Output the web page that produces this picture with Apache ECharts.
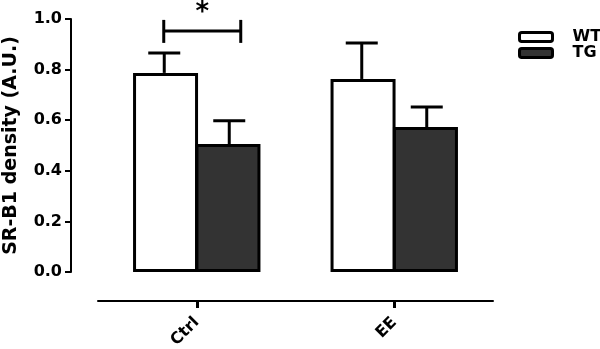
<!DOCTYPE html>
<html><head><meta charset="utf-8">
<script src="https://cdn.jsdelivr.net/npm/echarts@6/dist/echarts.min.js"></script>
<style>html,body{margin:0;padding:0;background:#fff}#c{width:600px;height:349px}</style>
</head><body><div id="c"></div>
<script>
const categories = ['Ctrl', 'EE'];
const seriesNames = ['WT', 'TG'];
const wtMean = [0.787, 0.763];
const wtUpper = [0.866, 0.905];
const tgMean = [0.506, 0.573];
const tgUpper = [0.598, 0.652];
const yTicks = [0.0, 0.2, 0.4, 0.6, 0.8, 1.0];
const sigCategory = 0;
const sigLevel = 0.953;
const sigLabel = '*';

const BAR_W = 65;
const FONT = 'DejaVu Sans';
const chart = echarts.init(document.getElementById('c'));

function errSeries(name, means, uppers, side) {
  return {
    type: 'custom', name: name + ' err', z: 5,
    data: means.map((m, i) => [i, m, uppers[i]]),
    renderItem: function (params, api) {
      const top = api.coord([api.value(0), api.value(1)]);
      const cap = api.coord([api.value(0), api.value(2)]);
      const x = top[0] + side * BAR_W / 2;
      const st = {stroke: '#000', lineWidth: 3};
      return {type: 'group', children: [
        {type: 'line', shape: {x1: x, y1: top[1], x2: x, y2: cap[1]}, style: st},
        {type: 'line', shape: {x1: x - 16, y1: cap[1], x2: x + 16, y2: cap[1]}, style: st}
      ]};
    }
  };
}

chart.setOption({
  animation: false,
  grid: {left: 98, right: 107, top: 19, bottom: 77, outerBoundsMode: 'none', containLabel: false},
  legend: {
    orient: 'vertical', left: 518, top: 29, itemGap: 0, padding: 0,
    itemWidth: 33, itemHeight: 9, icon: 'roundRect',
    data: [
      {name: 'WT', itemStyle: {color: '#fff', borderColor: '#000', borderWidth: 3}},
      {name: 'TG', itemStyle: {color: '#333', borderColor: '#000', borderWidth: 3}}
    ],
    textStyle: {fontFamily: FONT, fontWeight: 'bold', fontSize: 16, lineHeight: 15, color: '#000',
      padding: [0, 0, 0, 15]}
  },
  xAxis: {
    type: 'category', data: categories, offset: 29,
    axisLine: {onZero: false, lineStyle: {color: '#000', width: 2}},
    axisTick: {show: true, interval: 0, alignWithLabel: true, length: 7, lineStyle: {width: 3, color: '#000'}},
    axisLabel: {rotate: 45, margin: 19, fontFamily: FONT, fontWeight: 'bold', fontSize: 16, color: '#000'}
  },
  yAxis: {
    type: 'value', min: 0, max: 1.0, interval: 0.2, offset: 27,
    name: 'SR-B1 density (A.U.)', nameLocation: 'middle', nameGap: 50,
    nameTextStyle: {fontFamily: FONT, fontWeight: 'bold', fontSize: 19, color: '#000'},
    axisLine: {show: true, lineStyle: {color: '#000', width: 2}},
    axisTick: {show: true, length: 6, lineStyle: {width: 2, color: '#000'}},
    splitLine: {show: false},
    axisLabel: {margin: 9, fontFamily: FONT, fontWeight: 'bold', fontSize: 16, color: '#000',
      formatter: v => v.toFixed(1)}
  },
  series: [
    {type: 'bar', name: 'WT', data: wtMean, barWidth: BAR_W, barGap: '-4%',
     itemStyle: {color: '#fff', borderColor: '#000', borderWidth: 3}},
    {type: 'bar', name: 'TG', data: tgMean, barWidth: BAR_W, barGap: '-4%',
     itemStyle: {color: '#333', borderColor: '#000', borderWidth: 3}},
    errSeries('WT', wtMean, wtUpper, -1),
    errSeries('TG', tgMean, tgUpper, 1),
    {
      type: 'custom', name: 'sig', z: 6,
      data: [[sigCategory, sigLevel]],
      renderItem: function (params, api) {
        const p = api.coord([api.value(0), api.value(1)]);
        const x1 = p[0] - 33, x2 = p[0] + 44, y = p[1];
        const st = {stroke: '#000', lineWidth: 3};
        return {type: 'group', children: [
          {type: 'line', shape: {x1: x1, y1: y, x2: x2, y2: y}, style: st},
          {type: 'line', shape: {x1: x1, y1: y - 11, x2: x1, y2: y + 12}, style: st},
          {type: 'line', shape: {x1: x2, y1: y - 11, x2: x2, y2: y + 12}, style: st},
          {type: 'text', x: (x1 + x2) / 2, y: y - 18, style: {text: sigLabel, fill: '#000',
            font: 'bold 26px ' + FONT, textAlign: 'center', textVerticalAlign: 'middle'}}
        ]};
      }
    }
  ]
});
</script></body></html>
